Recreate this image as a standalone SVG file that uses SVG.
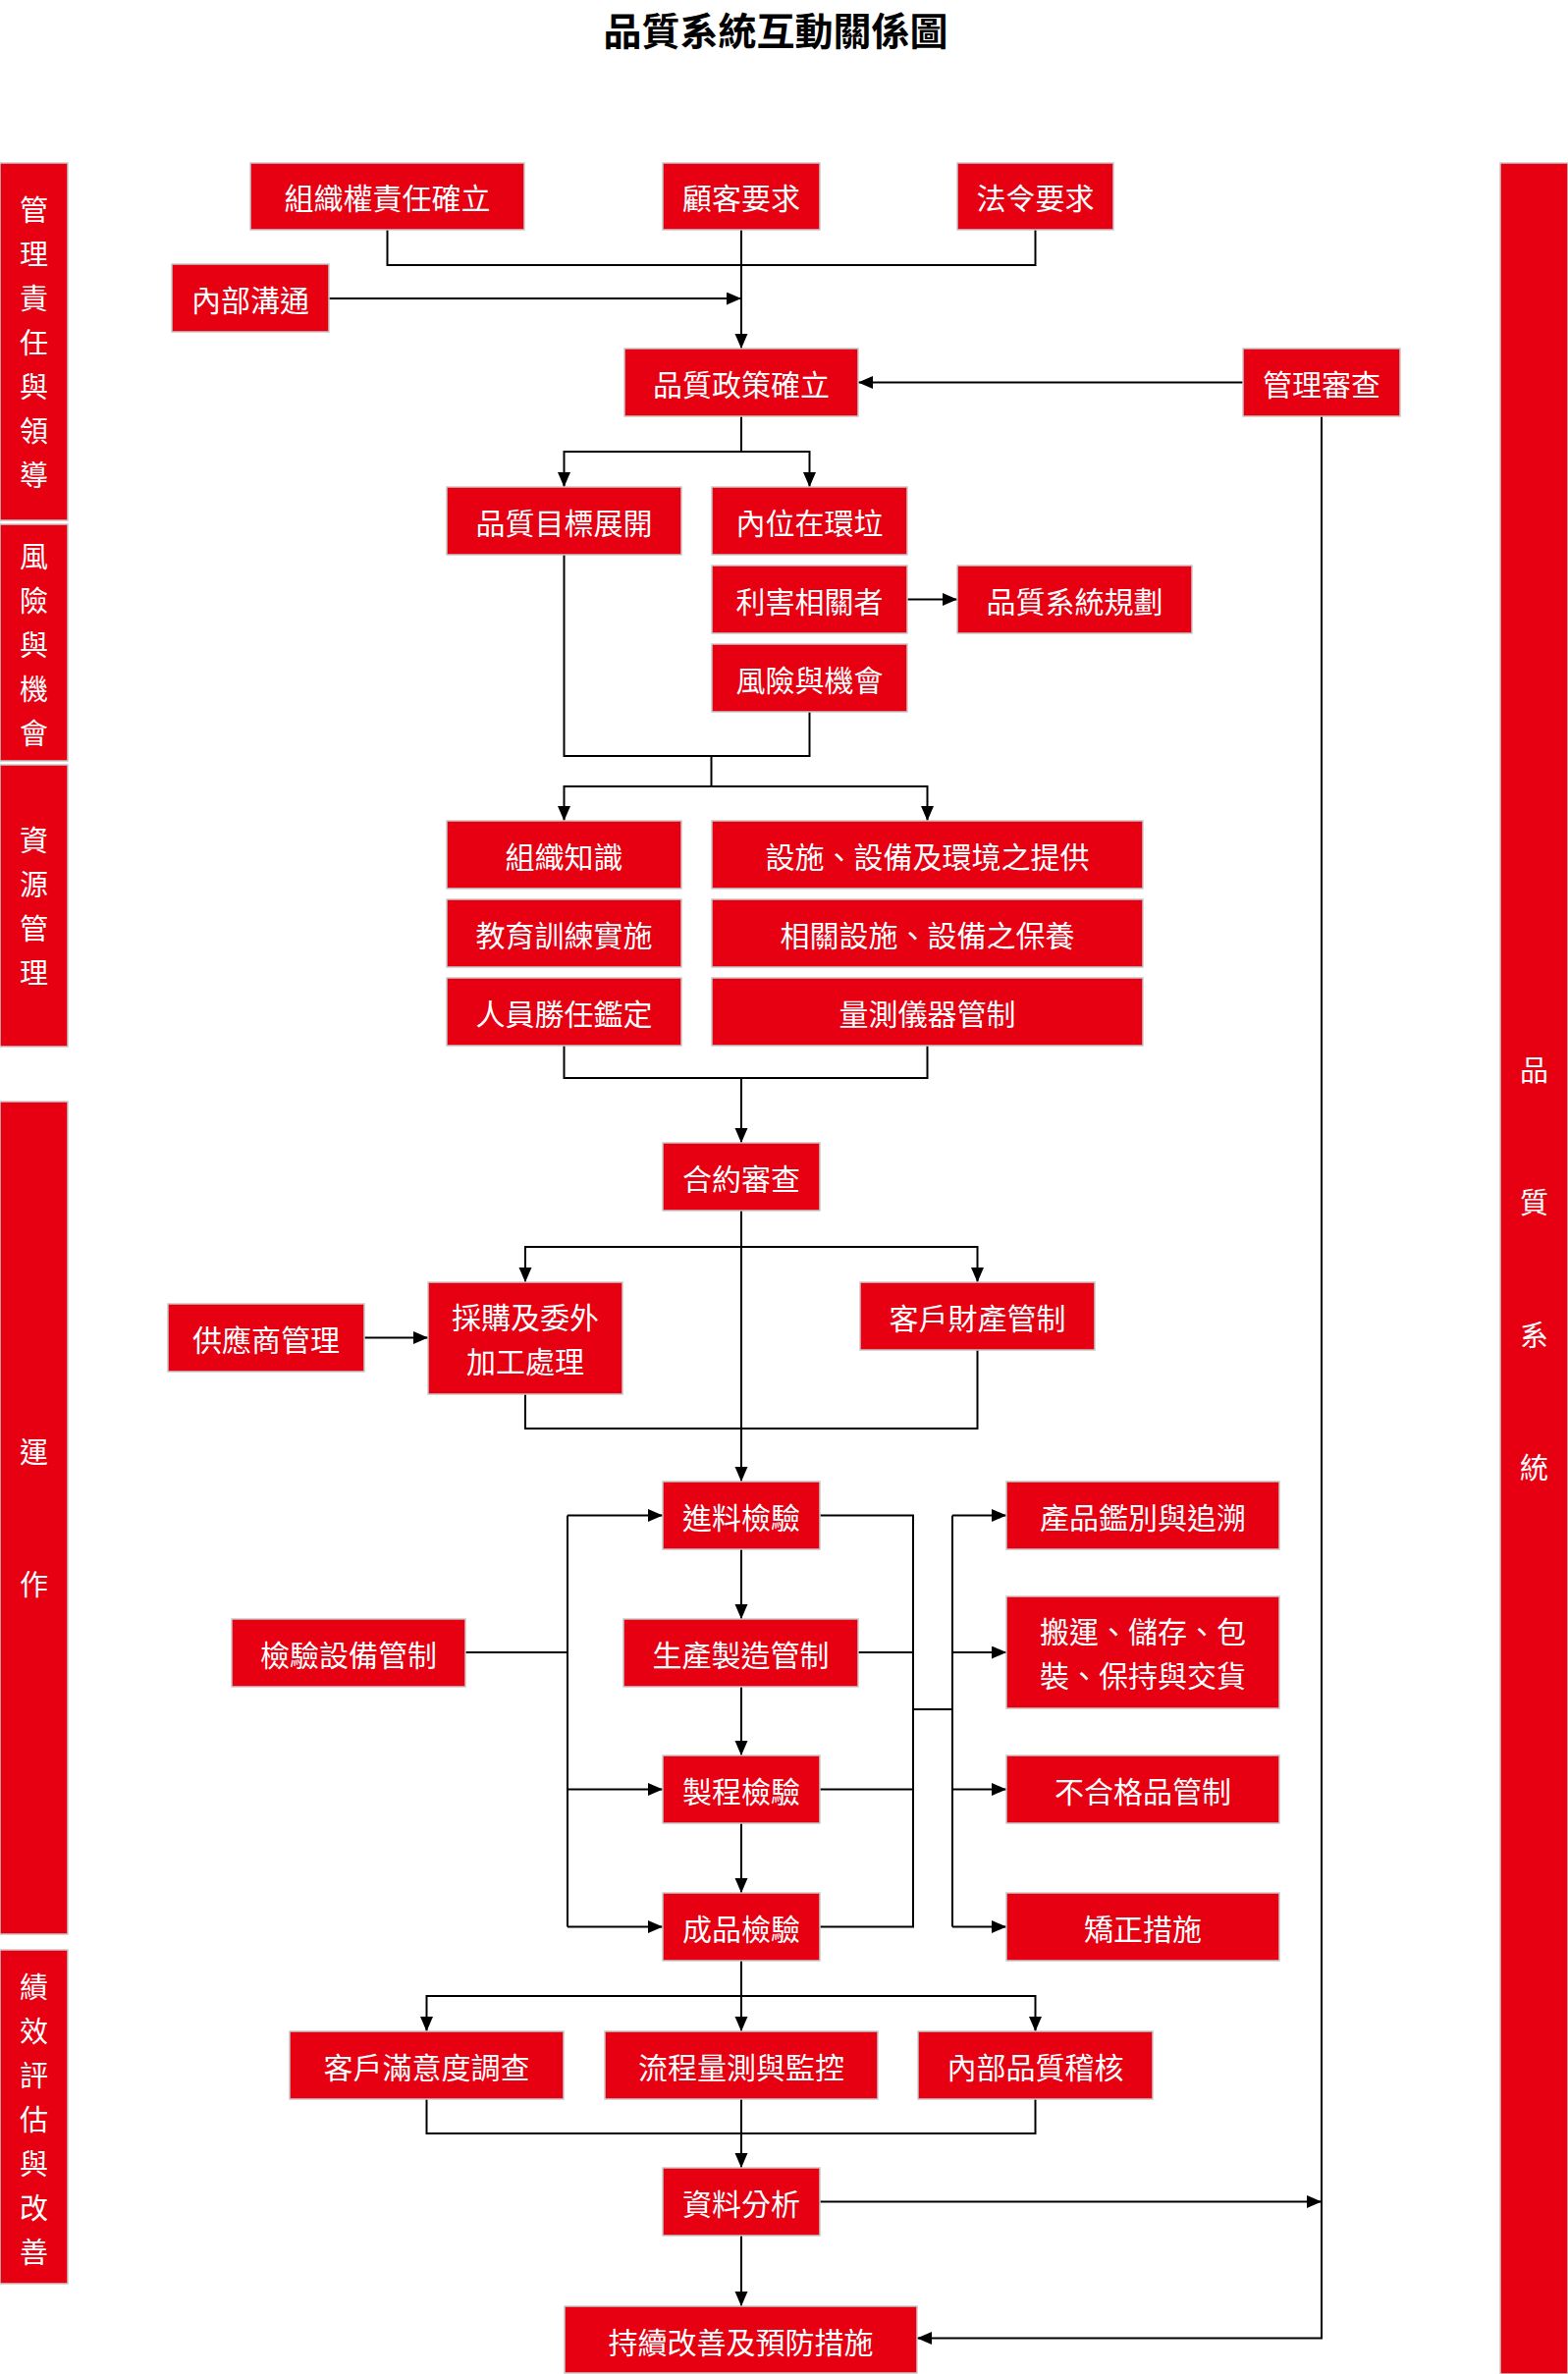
<svg xmlns="http://www.w3.org/2000/svg" width="1597" height="2418" viewBox="0 0 1597 2418">
<defs>
<style>
.b{fill:#E60012;stroke:#C8C8C8;stroke-width:1.5}
.t{font-family:"Noto Sans CJK TC","Noto Sans CJK SC",sans-serif;font-size:30px;fill:#FFFFFF;text-anchor:middle}
.v{font-family:"Noto Sans CJK TC","Noto Sans CJK SC",sans-serif;font-size:29px;fill:#FFFFFF;text-anchor:middle}
.c{fill:none;stroke:#000000;stroke-width:2}
.a{fill:none;stroke:#000000;stroke-width:2;marker-end:url(#ah)}
</style>
<marker id="ah" markerUnits="userSpaceOnUse" markerWidth="16" markerHeight="14" refX="15" refY="6.5" orient="auto">
<path d="M0,0 L15,6.5 L0,13 z" fill="#000000"/>
</marker>
</defs>
<rect width="1597" height="2418" fill="#FFFFFF"/>
<text x="790" y="46" font-family="'Noto Sans CJK TC','Noto Sans CJK SC',sans-serif" font-size="39" font-weight="bold" text-anchor="middle" fill="#000000">品質系統互動關係圖</text>

<g id="bar-leadership"><rect class="b" x="0" y="166" width="69" height="364"/><text class="v" x="34.5" y="225"><tspan x="34.5" y="225">管</tspan><tspan x="34.5" y="270">理</tspan><tspan x="34.5" y="315">責</tspan><tspan x="34.5" y="360">任</tspan><tspan x="34.5" y="405">與</tspan><tspan x="34.5" y="450">領</tspan><tspan x="34.5" y="495">導</tspan></text></g>
<g id="bar-risk"><rect class="b" x="0" y="534" width="69" height="241"/><text class="v" x="34.5" y="578"><tspan x="34.5" y="578">風</tspan><tspan x="34.5" y="623">險</tspan><tspan x="34.5" y="668">與</tspan><tspan x="34.5" y="713">機</tspan><tspan x="34.5" y="758">會</tspan></text></g>
<g id="bar-resource"><rect class="b" x="0" y="779" width="69" height="287"/><text class="v" x="34.5" y="867"><tspan x="34.5" y="867">資</tspan><tspan x="34.5" y="912">源</tspan><tspan x="34.5" y="957">管</tspan><tspan x="34.5" y="1002">理</tspan></text></g>
<g id="bar-operation"><rect class="b" x="0" y="1122" width="69" height="848"/><text class="v" x="34.5" y="1490"><tspan x="34.5" y="1490">運</tspan><tspan x="34.5" y="1625">作</tspan></text></g>
<g id="bar-performance"><rect class="b" x="0" y="1986" width="69" height="340"/><text class="v" x="34.5" y="2035"><tspan x="34.5" y="2035">績</tspan><tspan x="34.5" y="2080">效</tspan><tspan x="34.5" y="2125">評</tspan><tspan x="34.5" y="2170">估</tspan><tspan x="34.5" y="2215">與</tspan><tspan x="34.5" y="2260">改</tspan><tspan x="34.5" y="2305">善</tspan></text></g>
<g id="bar-system"><rect class="b" x="1528" y="166" width="69" height="2252"/><text class="v" x="1562.5" y="1101"><tspan x="1562.5" y="1101">品</tspan><tspan x="1562.5" y="1236">質</tspan><tspan x="1562.5" y="1371">系</tspan><tspan x="1562.5" y="1506">統</tspan></text></g>

<g id="connectors">
<path class="c" d="M394.5,234 V270 H1054.5 V234"/>
<path class="a" d="M755,234 V355"/>
<path class="a" d="M335,304 H755"/>
<path class="a" d="M1266,389.5 H874"/>
<path class="c" d="M755,424 V460"/>
<path class="a" d="M755,460 H574.5 V496"/>
<path class="a" d="M755,460 H824.5 V496"/>
<path class="a" d="M924,610.5 H975"/>
<path class="c" d="M574.5,565 V770 H824.5 V725"/>
<path class="c" d="M724.5,770 V801"/>
<path class="a" d="M724.5,801 H574.5 V836"/>
<path class="a" d="M724.5,801 H944.5 V836"/>
<path class="c" d="M574.5,1065 V1098 H944.5 V1065"/>
<path class="a" d="M755,1098 V1164"/>
<path class="a" d="M755,1233 V1509"/>
<path class="a" d="M755,1270 H535 V1306"/>
<path class="a" d="M755,1270 H995.5 V1306"/>
<path class="a" d="M371,1362.5 H436"/>
<path class="c" d="M535,1420 V1455 H995.5 V1375"/>
<path class="a" d="M755,1578 V1649"/>
<path class="a" d="M755,1718 V1788"/>
<path class="a" d="M755,1857 V1928"/>
<path class="c" d="M474,1683 H578"/>
<path class="c" d="M578,1543.5 V1962.5"/>
<path class="a" d="M578,1543.5 H675"/>
<path class="a" d="M578,1822.5 H675"/>
<path class="a" d="M578,1962.5 H675"/>
<path class="c" d="M835,1543.5 H930 V1962.5 H835"/>
<path class="c" d="M874,1683 H930"/>
<path class="c" d="M835,1822.5 H930"/>
<path class="c" d="M930,1741 H970"/>
<path class="c" d="M970,1543.5 V1962.5"/>
<path class="a" d="M970,1543.5 H1025"/>
<path class="a" d="M970,1683 H1025"/>
<path class="a" d="M970,1822.5 H1025"/>
<path class="a" d="M970,1962.5 H1025"/>
<path class="a" d="M755,1997 V2069"/>
<path class="a" d="M755,2033 H434.5 V2069"/>
<path class="a" d="M755,2033 H1054.5 V2069"/>
<path class="c" d="M434.5,2138 V2173 H1054.5 V2138"/>
<path class="a" d="M755,2138 V2208"/>
<path class="a" d="M835,2242.5 H1346"/>
<path class="a" d="M755,2277 V2349"/>
<path class="a" d="M1346,424 V2381.5 H934"/>
</g>

<g id="n-org"><rect class="b" x="255" y="166" width="279" height="68"/><text class="t" x="394.5" y="213">組織權責任確立</text></g>
<g id="n-customer"><rect class="b" x="675" y="166" width="160" height="68"/><text class="t" x="755" y="213">顧客要求</text></g>
<g id="n-law"><rect class="b" x="975" y="166" width="159" height="68"/><text class="t" x="1054.5" y="213">法令要求</text></g>
<g id="n-internal-comm"><rect class="b" x="175" y="269" width="160" height="69"/><text class="t" x="255" y="317">內部溝通</text></g>
<g id="n-policy"><rect class="b" x="636" y="355" width="238" height="69"/><text class="t" x="755" y="403">品質政策確立</text></g>
<g id="n-review"><rect class="b" x="1266" y="355" width="160" height="69"/><text class="t" x="1346" y="403">管理審查</text></g>
<g id="n-objective"><rect class="b" x="455" y="496" width="239" height="69"/><text class="t" x="574.5" y="544">品質目標展開</text></g>
<g id="n-context"><rect class="b" x="725" y="496" width="199" height="69"/><text class="t" x="824.5" y="544">內位在環垃</text></g>
<g id="n-stakeholder"><rect class="b" x="725" y="576" width="199" height="69"/><text class="t" x="824.5" y="624">利害相關者</text></g>
<g id="n-planning"><rect class="b" x="975" y="576" width="239" height="69"/><text class="t" x="1094.5" y="624">品質系統規劃</text></g>
<g id="n-risk"><rect class="b" x="725" y="656" width="199" height="69"/><text class="t" x="824.5" y="704">風險與機會</text></g>
<g id="n-knowledge"><rect class="b" x="455" y="836" width="239" height="69"/><text class="t" x="574.5" y="884">組織知識</text></g>
<g id="n-facility"><rect class="b" x="725" y="836" width="439" height="69"/><text class="t" x="944.5" y="884">設施、設備及環境之提供</text></g>
<g id="n-training"><rect class="b" x="455" y="916" width="239" height="69"/><text class="t" x="574.5" y="964">教育訓練實施</text></g>
<g id="n-maintenance"><rect class="b" x="725" y="916" width="439" height="69"/><text class="t" x="944.5" y="964">相關設施、設備之保養</text></g>
<g id="n-competence"><rect class="b" x="455" y="996" width="239" height="69"/><text class="t" x="574.5" y="1044">人員勝任鑑定</text></g>
<g id="n-measure"><rect class="b" x="725" y="996" width="439" height="69"/><text class="t" x="944.5" y="1044">量測儀器管制</text></g>
<g id="n-contract"><rect class="b" x="675" y="1164" width="160" height="69"/><text class="t" x="755" y="1212">合約審查</text></g>
<g id="n-purchase"><rect class="b" x="436" y="1306" width="198" height="114"/><text class="t" x="535" y="1353">採購及委外</text><text class="t" x="535" y="1398">加工處理</text></g>
<g id="n-customer-property"><rect class="b" x="876" y="1306" width="239" height="69"/><text class="t" x="995.5" y="1354">客戶財產管制</text></g>
<g id="n-supplier"><rect class="b" x="171" y="1328" width="200" height="69"/><text class="t" x="271" y="1376">供應商管理</text></g>
<g id="n-incoming"><rect class="b" x="675" y="1509" width="160" height="69"/><text class="t" x="755" y="1557">進料檢驗</text></g>
<g id="n-production"><rect class="b" x="635" y="1649" width="239" height="69"/><text class="t" x="754.5" y="1697">生產製造管制</text></g>
<g id="n-process-insp"><rect class="b" x="675" y="1788" width="160" height="69"/><text class="t" x="755" y="1836">製程檢驗</text></g>
<g id="n-final-insp"><rect class="b" x="675" y="1928" width="160" height="69"/><text class="t" x="755" y="1976">成品檢驗</text></g>
<g id="n-insp-equip"><rect class="b" x="236" y="1649" width="238" height="69"/><text class="t" x="355" y="1697">檢驗設備管制</text></g>
<g id="n-identification"><rect class="b" x="1025" y="1509" width="278" height="69"/><text class="t" x="1164" y="1557">產品鑑別與追溯</text></g>
<g id="n-handling"><rect class="b" x="1025" y="1626" width="278" height="114"/><text class="t" x="1164" y="1673">搬運、儲存、包</text><text class="t" x="1164" y="1718">裝、保持與交貨</text></g>
<g id="n-nonconform"><rect class="b" x="1025" y="1788" width="278" height="69"/><text class="t" x="1164" y="1836">不合格品管制</text></g>
<g id="n-corrective"><rect class="b" x="1025" y="1928" width="278" height="69"/><text class="t" x="1164" y="1976">矯正措施</text></g>
<g id="n-satisfaction"><rect class="b" x="295" y="2069" width="279" height="69"/><text class="t" x="434.5" y="2117">客戶滿意度調查</text></g>
<g id="n-monitoring"><rect class="b" x="616" y="2069" width="278" height="69"/><text class="t" x="755" y="2117">流程量測與監控</text></g>
<g id="n-audit"><rect class="b" x="935" y="2069" width="239" height="69"/><text class="t" x="1054.5" y="2117">內部品質稽核</text></g>
<g id="n-analysis"><rect class="b" x="675" y="2208" width="160" height="69"/><text class="t" x="755" y="2256">資料分析</text></g>
<g id="n-improvement"><rect class="b" x="575" y="2349" width="359" height="68"/><text class="t" x="754.5" y="2397">持續改善及預防措施</text></g>
</svg>
